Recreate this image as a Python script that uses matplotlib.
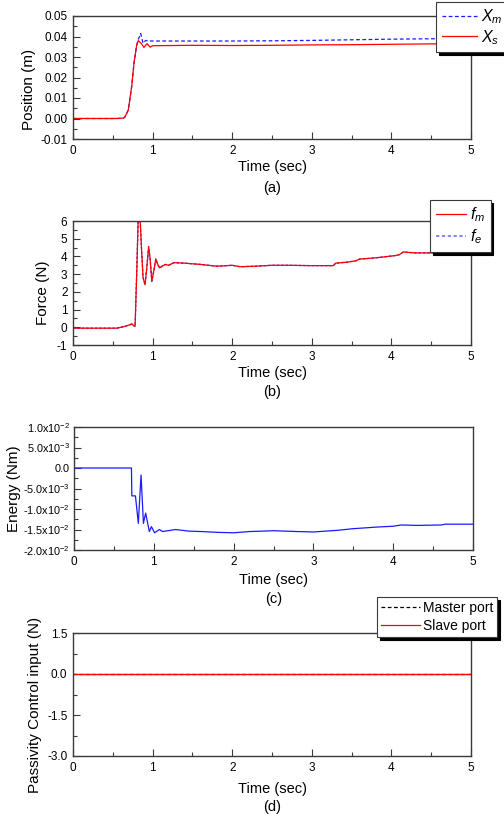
import matplotlib
matplotlib.use("Agg")
import matplotlib.pyplot as plt
from matplotlib.ticker import MultipleLocator, FixedLocator
from matplotlib.lines import Line2D

plt.rcParams['font.family'] = ['Liberation Sans', 'DejaVu Sans']
plt.rcParams['mathtext.fontset'] = 'custom'
plt.rcParams['mathtext.rm'] = 'Liberation Sans'
plt.rcParams['mathtext.it'] = 'Liberation Sans:italic'
plt.rcParams['mathtext.default'] = 'regular'
plt.rcParams['axes.unicode_minus'] = False

# ---------------- data ----------------
t_pos = [0, 0.55, 0.63, 0.65, 0.695, 0.737, 0.766, 0.80, 0.82, 0.85, 0.88, 0.905,
         0.92, 0.946, 0.97, 0.99, 1.03, 1.5, 2.0, 2.5, 3.0, 3.5, 4.0, 4.5, 5.0]
x_m = [0, 0, 0.0002, 0.0006, 0.0042, 0.0155, 0.0269, 0.0358, 0.0385, 0.0415, 0.0367,
       0.0378, 0.0381, 0.0376, 0.0378, 0.0378, 0.0378, 0.0378, 0.0378, 0.0379, 0.0381,
       0.0384, 0.0387, 0.0389, 0.0390]
t_pos_s = [0, 0.55, 0.63, 0.65, 0.695, 0.737, 0.766, 0.80, 0.82, 0.86, 0.89, 0.93,
           0.97, 1.0, 1.5, 2.0, 2.5, 3.0, 3.5, 4.0, 4.5, 5.0]
x_s = [0, 0, 0.0002, 0.0006, 0.0041, 0.0155, 0.0269, 0.0358, 0.0380, 0.0365, 0.0347,
       0.0365, 0.0348, 0.0355, 0.0357, 0.0356, 0.0357, 0.0359, 0.0360, 0.0362, 0.0364, 0.0365]

t_force = [0, 0.3, 0.55, 0.65, 0.72, 0.74, 0.76, 0.78, 0.80, 0.82, 0.84, 0.86, 0.88,
           0.905, 0.93, 0.95, 0.97, 0.99, 1.02, 1.04, 1.07, 1.09, 1.12, 1.16, 1.2, 1.27,
           1.4, 1.6, 1.8, 1.9, 2.0, 2.1, 2.3, 2.5, 2.7, 3.0, 3.27, 3.3, 3.45, 3.55, 3.6,
           3.75, 3.9, 4.05, 4.1, 4.15, 4.3, 4.5, 4.7, 5.0]
f_m = [-0.05, -0.05, -0.05, 0.05, 0.15, 0.2, 0.1, 0.05, 3.0, 6.3, 6.4, 4.5, 2.8,
       2.4, 3.5, 4.55, 3.8, 2.6, 3.3, 3.85, 3.5, 3.35, 3.45, 3.55, 3.5, 3.65,
       3.62, 3.55, 3.45, 3.47, 3.5, 3.42, 3.45, 3.5, 3.5, 3.48, 3.48, 3.62, 3.68, 3.75,
       3.85, 3.9, 3.97, 4.05, 4.1, 4.25, 4.2, 4.2, 4.25, 4.3]
f_e = f_m

t_energy = [0, 0.72, 0.725, 0.77, 0.806, 0.84, 0.87, 0.898, 0.944, 0.97, 1.01, 1.07,
            1.11, 1.21, 1.27, 1.44, 1.6, 1.8, 2.0, 2.2, 2.5, 2.8, 3.0, 3.3, 3.5, 3.8,
            4.0, 4.1, 4.3, 4.6, 4.65, 5.0]
energy = [0, 0, -0.0068, -0.0068, -0.0135, -0.0017, -0.0135, -0.011, -0.0155, -0.0143,
          -0.0158, -0.0150, -0.0155, -0.0152, -0.0150, -0.0154, -0.0155, -0.0157, -0.0158,
          -0.0155, -0.0153, -0.0155, -0.0156, -0.0152, -0.0148, -0.0144, -0.0142, -0.0139,
          -0.0140, -0.0139, -0.0137, -0.0137]

t_pc = [0, 5]
pc_master = [0, 0]
pc_slave = [0, 0]

energy_ticks = [0.01, 0.005, 0.0, -0.005, -0.01, -0.015, -0.02]
energy_labels = [r'1.0x10$^{-2}$', r'5.0x10$^{-3}$', '0.0', r'-5.0x10$^{-3}$',
                 r'-1.0x10$^{-2}$', r'-1.5x10$^{-2}$', r'-2.0x10$^{-2}$']
pc_ticks = [1.5, 0.0, -1.5, -3.0]
pc_labels = ['1.5', '0.0', '-1.5', '-3.0']

# ---------------- figure ----------------
W, H = 504, 818
fig = plt.figure(figsize=(W / 100, H / 100), dpi=100)
SPINE = '#3a3a3a'
RED = '#ff0000'
BLUE = '#1a1aff'


def mk_axes(l, t, r, b):
    return fig.add_axes([l / W, 1 - b / H, (r - l) / W, (b - t) / H])


def style(ax, xlab_y, cap_y, cap, ylab, ylab_x, ylab_y, ylab_size=11, ysize=8.5):
    ax.set_xlim(0, 5)
    ax.xaxis.set_major_locator(MultipleLocator(1))
    ax.xaxis.set_minor_locator(MultipleLocator(0.5))
    ax.tick_params(which='both', direction='in', top=False, right=False,
                   labelsize=8.5, color=SPINE, pad=4)
    ax.tick_params(axis='y', labelsize=ysize)
    ax.tick_params(which='major', length=5, width=0.8)
    ax.tick_params(which='minor', length=3, width=0.8)
    for s in ax.spines.values():
        s.set_color(SPINE)
        s.set_linewidth(1.0)
    ax.set_xlabel('Time (sec)', fontsize=10.5)
    ax.xaxis.set_label_coords(0.5, xlab_y)
    ax.xaxis.label.set_va('center')
    ax.set_ylabel(ylab, fontsize=ylab_size)
    ax.yaxis.set_label_coords(ylab_x, ylab_y)
    ax.yaxis.label.set_va('center')
    ax.text(0.5, cap_y, cap, transform=ax.transAxes, ha='center', va='center',
            fontsize=10.5)


def add_legend(handles, labels, x, y, fs, **kw):
    leg = fig.legend(handles, labels, loc='upper left',
                     bbox_to_anchor=(x / W, 1 - y / H), borderaxespad=0,
                     fancybox=False, framealpha=1, edgecolor=SPINE,
                     shadow={'color': 'black', 'alpha': 1}, fontsize=fs, **kw)
    leg.get_frame().set_linewidth(0.8)
    return leg


# (a) position
ax1 = mk_axes(73, 16, 471, 139)
ax1.plot(t_pos, x_m, color=BLUE, ls=(0, (3, 2)), lw=0.9)
ax1.plot(t_pos_s, x_s, color=RED, lw=0.9)
ax1.set_ylim(-0.01, 0.05)
ax1.yaxis.set_major_locator(MultipleLocator(0.01))
ax1.yaxis.set_minor_locator(MultipleLocator(0.005))
ax1.yaxis.set_major_formatter(plt.FuncFormatter(lambda v, p: f'{v:.2f}'))
style(ax1, -0.228, -0.398, '(a)', 'Position (m)', -0.11, 0.40)
add_legend([Line2D([], [], color=BLUE, ls=(0, (3, 2)), lw=0.9),
            Line2D([], [], color=RED, lw=0.9)],
           [r'$\mathit{X}_{\mathit{m}}$', r'$\mathit{X}_{\mathit{s}}$'],
           436, 2, 11.5, handlelength=2.2, handletextpad=0.25, labelspacing=0.1,
           borderpad=0.35)

# (b) force
ax2 = mk_axes(73, 221, 471, 345)
ax2.plot(t_force, f_e, color=BLUE, ls=(0, (2, 1.5)), lw=0.9)
ax2.plot(t_force, f_m, color=RED, lw=0.9)
ax2.set_ylim(-1, 6)
ax2.yaxis.set_major_locator(MultipleLocator(1))
ax2.yaxis.set_minor_locator(MultipleLocator(0.5))
style(ax2, -0.226, -0.379, '(b)', 'Force (N)', -0.075, 0.42)
add_legend([Line2D([], [], color=RED, lw=0.9),
            Line2D([], [], color='#7070ff', ls=(0, (2, 1.5)), lw=1.2)],
           [r'$\mathit{f}_{\mathit{m}}$', r'$\mathit{f}_{\mathit{e}}$'],
           430, 200, 11.5, handlelength=1.9, handletextpad=0.25, labelspacing=0.2,
           borderpad=0.35)

# (c) energy
ax3 = mk_axes(74, 427, 473, 550)
ax3.plot(t_energy, energy, color=BLUE, lw=0.9)
ax3.set_ylim(-0.02, 0.01)
ax3.yaxis.set_major_locator(FixedLocator(energy_ticks))
ax3.set_yticklabels(energy_labels)
ax3.yaxis.set_minor_locator(MultipleLocator(0.0025))
style(ax3, -0.244, -0.40, '(c)', 'Energy (Nm)', -0.15, 0.5, ysize=7.8)
ax3.tick_params(axis='y', pad=3)

# (d) passivity control input
ax4 = mk_axes(73, 633, 471, 756)
ax4.plot(t_pc, pc_master, color='black', ls=(0, (3, 2)), lw=0.9)
ax4.plot(t_pc, pc_slave, color=RED, lw=1.0)
ax4.set_ylim(-3.0, 1.5)
ax4.yaxis.set_major_locator(FixedLocator(pc_ticks))
ax4.set_yticklabels(pc_labels)
ax4.yaxis.set_minor_locator(MultipleLocator(0.75))
style(ax4, -0.268, -0.415, '(d)', 'Passivity Control input (N)', -0.095, 0.415)
add_legend([Line2D([], [], color='black', ls=(0, (3, 2)), lw=0.9),
            Line2D([], [], color=RED, lw=0.9)],
           ['Master port', 'Slave port'],
           377, 597, 10, handlelength=2.8, handletextpad=0.2, labelspacing=0.25,
           borderpad=0.3)

fig.savefig('out.png', dpi=100)
